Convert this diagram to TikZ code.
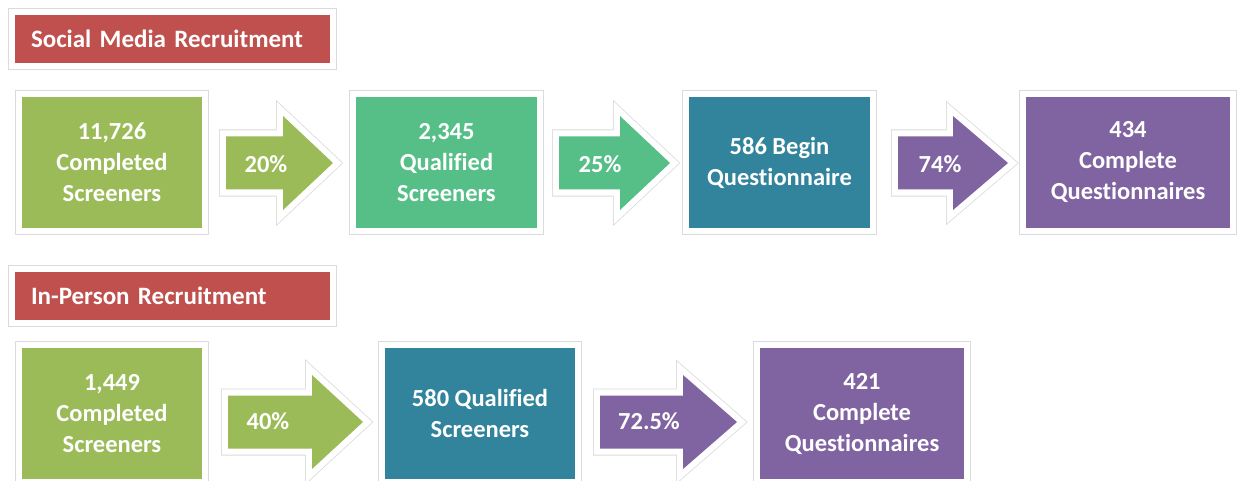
\documentclass[tikz,border=0pt]{standalone}
\usepackage{fontspec}
\setmainfont{Carlito}[Ligatures=NoCommon]
\definecolor{cgreen}{HTML}{9BBB59}
\definecolor{cmint}{HTML}{55BF87}
\definecolor{cteal}{HTML}{31849B}
\definecolor{cpurple}{HTML}{8064A2}
\definecolor{cred}{HTML}{C0504D}
\tikzset{
  framed/.style={preaction={draw=black!14, double=white, double distance=12.4pt, line width=0.8pt, line join=miter}},
  box/.style={framed, fill=#1, inner sep=0pt, text=white, align=center,
    font=\fontsize{24.5}{31}\selectfont\bfseries},
  titlebox/.style={framed, fill=cred, minimum width=315pt, minimum height=48pt,
    inner xsep=16pt, inner ysep=0pt, text width=283pt, align=left, text=white,
    font=\fontsize{25}{28}\selectfont\bfseries},
  pct/.style={text=white, font=\fontsize{24.5}{28}\selectfont\bfseries, inner sep=0pt}
}
% #1 shaft start x, #2 head base x, #3 tip x, #4 centre y, #5 colour
\newcommand\flowarrow[5]{%
  \path[framed, fill=#5, line join=miter]
    (#1,#4-26.5) -- (#2,#4-26.5) -- (#2,#4-47) -- (#3,#4) -- (#2,#4+47)
    -- (#2,#4+26.5) -- (#1,#4+26.5) -- cycle;}
\begin{document}
\begin{tikzpicture}[x=1pt,y=-1pt]
\useasboundingbox[fill=white] (0,0) rectangle (1241,481);

% ---- Row 1 ----
\node[titlebox] (t1) at (172.5,39) {Social Media Recruitment};

\flowarrow{226}{283}{333}{163}{cgreen}
\flowarrow{559}{620}{670}{163}{cmint}
\flowarrow{898}{953}{1008}{163}{cpurple}

\node[box=cgreen, minimum width=180pt, minimum height=131pt] (a1) at (112,162.5)
  {11,726\\Completed\\Screeners};
\node[box=cmint, minimum width=181pt, minimum height=131pt] (a2) at (446.5,162.5)
  {2,345\\Qualified\\Screeners};
\node[box=cteal, minimum width=181pt, minimum height=131pt] (a3) at (779.5,162.5)
  {586 Begin\\Questionnaire};
\node[box=cpurple, minimum width=204pt, minimum height=131pt] (a4) at (1128,162.5)
  {434\\Complete\\Questionnaires};

\node[pct] (p1) at (266,164) {20\%};
\node[pct] (p2) at (600,164) {25\%};
\node[pct] (p3) at (940,164) {74\%};

% ---- Row 2 ----
\node[titlebox] (t2) at (172.5,296) {In-Person Recruitment};

\flowarrow{228}{312}{363}{422}{cgreen}
\flowarrow{600}{683}{737}{422}{cpurple}

\node[box=cgreen, minimum width=180pt, minimum height=131pt] (b1) at (112,413.5)
  {1,449\\Completed\\Screeners};
\node[box=cteal, minimum width=190pt, minimum height=131pt] (b2) at (480,413.5)
  {580 Qualified\\Screeners};
\node[box=cpurple, minimum width=204pt, minimum height=131pt] (b3) at (862,413.5)
  {421\\Complete\\Questionnaires};

\node[pct] (q1) at (268,421) {40\%};
\node[pct] (q2) at (649,421) {72.5\%};
\end{tikzpicture}
\end{document}
